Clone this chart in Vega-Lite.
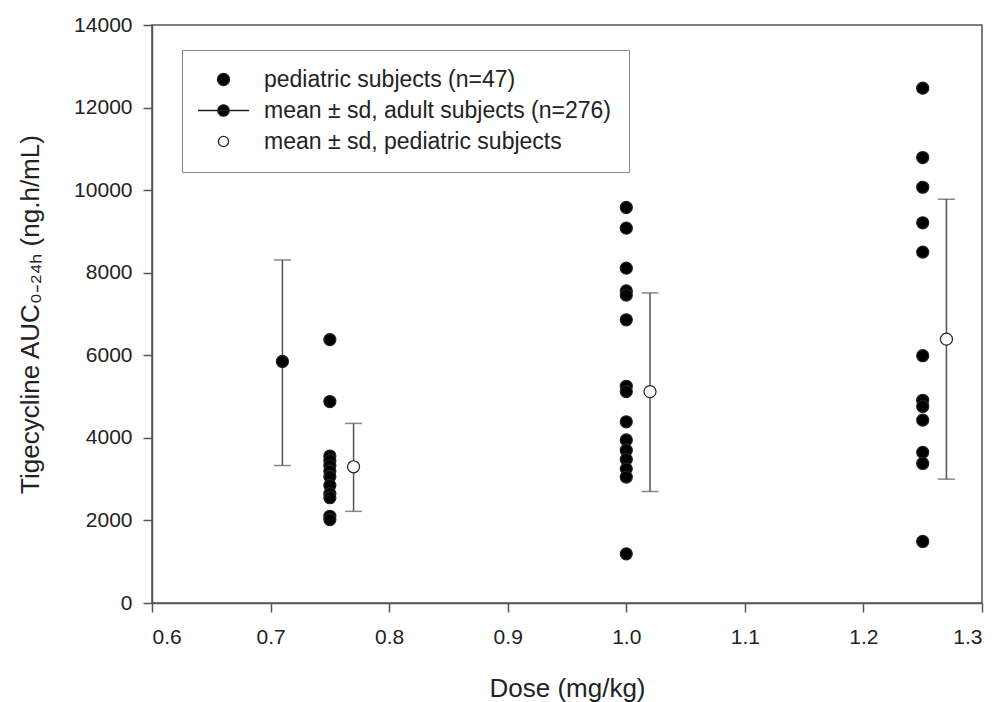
{
  "$schema": "https://vega.github.io/schema/vega-lite/v6.json",
  "width": 830,
  "height": 578,
  "autosize": {"type": "none"},
  "padding": {"left": 152, "top": 25, "right": 16, "bottom": 99},
  "background": "white",
  "config": {
    "font": "Liberation Sans",
    "view": {"stroke": "#555", "strokeWidth": 1.5},
    "axis": {
      "grid": false,
      "domainColor": "#555",
      "domainWidth": 1.5,
      "tickColor": "#555",
      "tickWidth": 1.5,
      "tickSize": 9,
      "labelFont": "Liberation Sans",
      "labelFontSize": 21,
      "labelColor": "#222",
      "titleFont": "Liberation Sans",
      "titleFontSize": 26,
      "titleFontWeight": "normal",
      "titleColor": "#222"
    },
    "legend": {
      "title": null, "orient": "none", "legendX": 30, "legendY": 25, "direction": "vertical",
      "padding": 18, "strokeColor": "#888", "fillColor": "white",
      "symbolSize": 144, "symbolOffset": 12, "symbolOpacity": 1,
      "symbolStrokeColor": "#222", "symbolStrokeWidth": 1.3,
      "labelOffset": 29, "labelFontSize": 23, "labelFont": "Liberation Sans", "labelColor": "#222", "labelLimit": 600,
      "rowPadding": 7
    }
  },
  "data": {
    "values": [
      {"dose": 0.75, "auc": 6380, "series": "pediatric subjects (n=47)"},
      {"dose": 0.75, "auc": 4880, "series": "pediatric subjects (n=47)"},
      {"dose": 0.75, "auc": 3560, "series": "pediatric subjects (n=47)"},
      {"dose": 0.75, "auc": 3450, "series": "pediatric subjects (n=47)"},
      {"dose": 0.75, "auc": 3330, "series": "pediatric subjects (n=47)"},
      {"dose": 0.75, "auc": 3200, "series": "pediatric subjects (n=47)"},
      {"dose": 0.75, "auc": 3060, "series": "pediatric subjects (n=47)"},
      {"dose": 0.75, "auc": 2850, "series": "pediatric subjects (n=47)"},
      {"dose": 0.75, "auc": 2650, "series": "pediatric subjects (n=47)"},
      {"dose": 0.75, "auc": 2550, "series": "pediatric subjects (n=47)"},
      {"dose": 0.75, "auc": 2100, "series": "pediatric subjects (n=47)"},
      {"dose": 0.75, "auc": 2020, "series": "pediatric subjects (n=47)"},
      {"dose": 1.0, "auc": 9580, "series": "pediatric subjects (n=47)"},
      {"dose": 1.0, "auc": 9080, "series": "pediatric subjects (n=47)"},
      {"dose": 1.0, "auc": 8110, "series": "pediatric subjects (n=47)"},
      {"dose": 1.0, "auc": 7560, "series": "pediatric subjects (n=47)"},
      {"dose": 1.0, "auc": 7460, "series": "pediatric subjects (n=47)"},
      {"dose": 1.0, "auc": 6860, "series": "pediatric subjects (n=47)"},
      {"dose": 1.0, "auc": 5250, "series": "pediatric subjects (n=47)"},
      {"dose": 1.0, "auc": 5120, "series": "pediatric subjects (n=47)"},
      {"dose": 1.0, "auc": 4390, "series": "pediatric subjects (n=47)"},
      {"dose": 1.0, "auc": 3950, "series": "pediatric subjects (n=47)"},
      {"dose": 1.0, "auc": 3700, "series": "pediatric subjects (n=47)"},
      {"dose": 1.0, "auc": 3480, "series": "pediatric subjects (n=47)"},
      {"dose": 1.0, "auc": 3250, "series": "pediatric subjects (n=47)"},
      {"dose": 1.0, "auc": 3050, "series": "pediatric subjects (n=47)"},
      {"dose": 1.0, "auc": 1190, "series": "pediatric subjects (n=47)"},
      {"dose": 1.25, "auc": 12470, "series": "pediatric subjects (n=47)"},
      {"dose": 1.25, "auc": 10790, "series": "pediatric subjects (n=47)"},
      {"dose": 1.25, "auc": 10070, "series": "pediatric subjects (n=47)"},
      {"dose": 1.25, "auc": 9210, "series": "pediatric subjects (n=47)"},
      {"dose": 1.25, "auc": 8500, "series": "pediatric subjects (n=47)"},
      {"dose": 1.25, "auc": 5990, "series": "pediatric subjects (n=47)"},
      {"dose": 1.25, "auc": 4910, "series": "pediatric subjects (n=47)"},
      {"dose": 1.25, "auc": 4760, "series": "pediatric subjects (n=47)"},
      {"dose": 1.25, "auc": 4430, "series": "pediatric subjects (n=47)"},
      {"dose": 1.25, "auc": 3650, "series": "pediatric subjects (n=47)"},
      {"dose": 1.25, "auc": 3380, "series": "pediatric subjects (n=47)"},
      {"dose": 1.25, "auc": 1490, "series": "pediatric subjects (n=47)"},
      {"dose": 0.71, "auc": 5850, "lo": 3330, "hi": 8310, "series": "mean ± sd, adult subjects (n=276)"},
      {"dose": 0.77, "auc": 3300, "lo": 2220, "hi": 4350, "series": "mean ± sd, pediatric subjects"},
      {"dose": 1.02, "auc": 5120, "lo": 2700, "hi": 7510, "series": "mean ± sd, pediatric subjects"},
      {"dose": 1.27, "auc": 6390, "lo": 3000, "hi": 9780, "series": "mean ± sd, pediatric subjects"}
    ]
  },
  "encoding": {
    "x": {
      "field": "dose", "type": "quantitative",
      "scale": {"domain": [0.6, 1.3], "nice": false, "zero": false},
      "axis": {"values": [0.6, 0.7, 0.8, 0.9, 1.0, 1.1, 1.2, 1.3], "format": ".1f", "labelPadding": 14, "title": "Dose (mg/kg)", "titleY": 85, "titleBaseline": "middle"}
    }
  },
  "layer": [
    {
      "mark": {"type": "point", "filled": true, "size": 144, "strokeWidth": 1.3, "opacity": 0},
      "encoding": {
        "y": {
          "field": "auc", "type": "quantitative",
          "scale": {"domain": [0, 14000], "nice": false},
          "axis": {"values": [0, 2000, 4000, 6000, 8000, 10000, 12000, 14000], "format": "d", "labelPadding": 11, "title": "Tigecycline AUC₀₋₂₄ₕ (ng.h/mL)", "titleX": -122, "titleY": 289, "titleBaseline": "middle", "titleAngle": 270}
        },
        "fill": {
          "field": "series", "type": "nominal",
          "scale": {
            "domain": ["pediatric subjects (n=47)", "mean ± sd, adult subjects (n=276)", "mean ± sd, pediatric subjects"],
            "range": ["#000000", "#000000", "#ffffff"]
          },
          "legend": {"title": null}
        },
        "stroke": {
          "field": "series", "type": "nominal",
          "scale": {
            "domain": ["pediatric subjects (n=47)", "mean ± sd, adult subjects (n=276)", "mean ± sd, pediatric subjects"],
            "range": ["#222222", "#222222", "#222222"]
          },
          "legend": {"title": null}
        },
        "shape": {
          "field": "series", "type": "nominal",
          "scale": {
            "domain": ["pediatric subjects (n=47)", "mean ± sd, adult subjects (n=276)", "mean ± sd, pediatric subjects"],
            "range": [
              "M1,0A1,1,0,1,1,-1,0A1,1,0,1,1,1,0Z",
              "M-4.25,0L4.25,0M0.95,0A0.95,0.95,0,1,1,-0.95,0A0.95,0.95,0,1,1,0.95,0Z",
              "M0.85,0A0.85,0.85,0,1,1,-0.85,0A0.85,0.85,0,1,1,0.85,0Z"
            ]
          },
          "legend": {"title": null}
        }
      }
    },
    {
      "transform": [{"filter": "isValid(datum.lo)"}],
      "mark": {"type": "rule", "color": "#555", "strokeWidth": 1.5},
      "encoding": {
        "y": {"field": "lo", "type": "quantitative"},
        "y2": {"field": "hi"}
      }
    },
    {
      "transform": [{"filter": "isValid(datum.lo)"}],
      "mark": {"type": "tick", "orient": "horizontal", "color": "#555", "size": 17, "thickness": 1.5},
      "encoding": {
        "y": {"field": "lo", "type": "quantitative"}
      }
    },
    {
      "transform": [{"filter": "isValid(datum.lo)"}],
      "mark": {"type": "tick", "orient": "horizontal", "color": "#555", "size": 17, "thickness": 1.5},
      "encoding": {
        "y": {"field": "hi", "type": "quantitative"}
      }
    },
    {
      "transform": [{"filter": "datum.series !== 'mean ± sd, pediatric subjects'"}],
      "mark": {"type": "point", "shape": "circle", "filled": true, "size": 145, "fill": "#000000", "stroke": "#222", "strokeWidth": 1.2, "opacity": 1},
      "encoding": {
        "y": {"field": "auc", "type": "quantitative"}
      }
    },
    {
      "transform": [{"filter": "datum.series === 'mean ± sd, pediatric subjects'"}],
      "mark": {"type": "point", "shape": "circle", "filled": true, "size": 145, "fill": "#ffffff", "stroke": "#222", "strokeWidth": 1.2, "opacity": 1},
      "encoding": {
        "y": {"field": "auc", "type": "quantitative"}
      }
    }
  ]
}
